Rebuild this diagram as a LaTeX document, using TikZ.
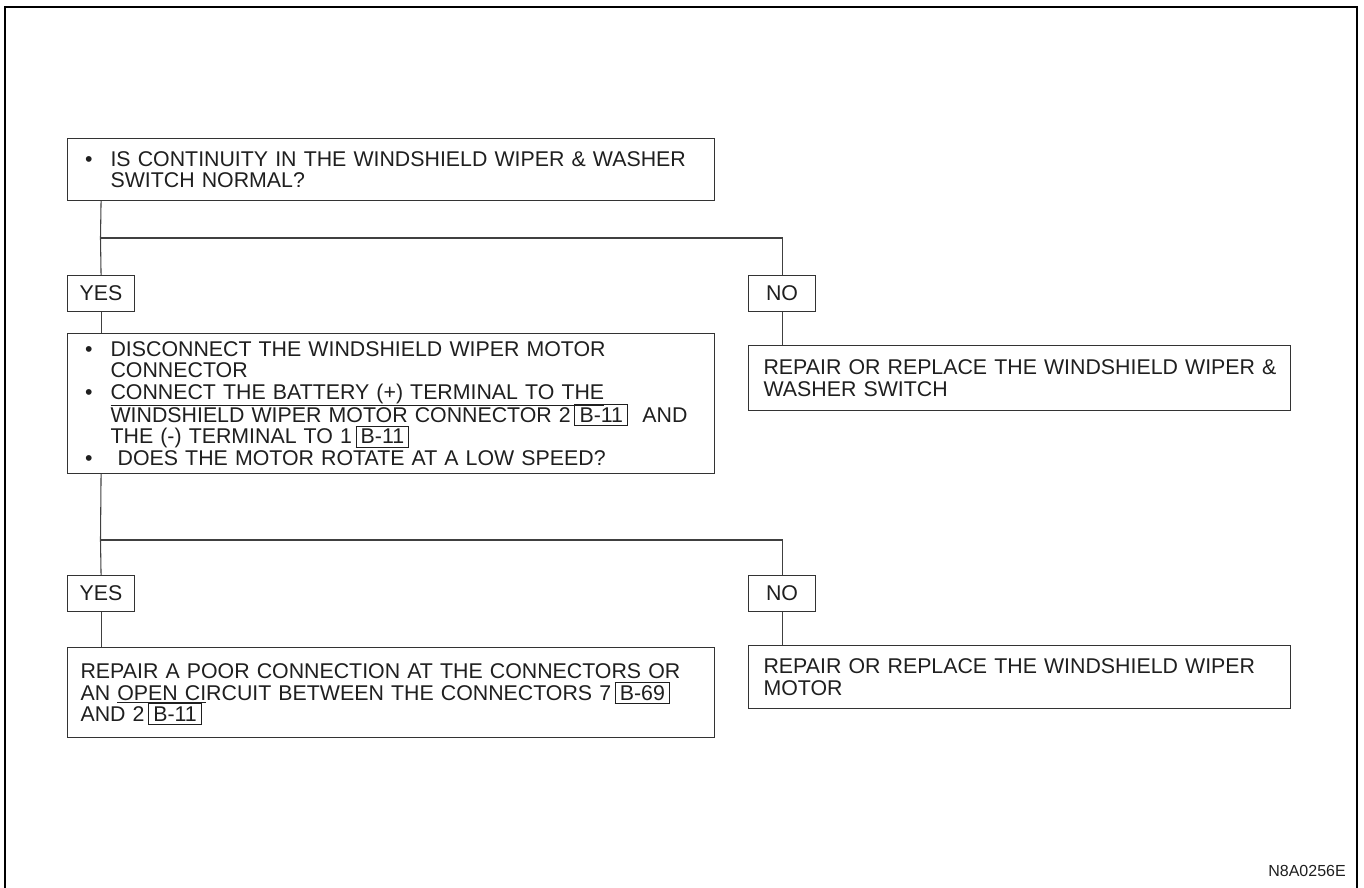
\documentclass[tikz,border=0pt]{standalone}
\usepackage{fontspec}
\setmainfont{Liberation Sans}
% one line of a bulleted item, a continuation line, and a boxed connector code
\newcommand\bl[1]{\mbox{\makebox[22.5pt][l]{\hspace{3.5pt}\textbullet}#1}}
\newcommand\cl[1]{\mbox{\hspace*{22.5pt}#1}}
\newcommand\refbox[1]{\smash{\fboxsep=2pt\fboxrule=0.7pt\fbox{\kern1.2pt#1\kern1.2pt}}}
\begin{document}
\begin{tikzpicture}[x=0.75pt,y=-0.75pt,
  every node/.style={text=black!88},
  flowbox/.style={draw=black!80, line width=0.85pt, rectangle, anchor=north west,
    inner xsep=9.75pt, inner ysep=0pt, align=left,
    font=\fontsize{16pt}{16pt}\selectfont},
  leftbox/.style={flowbox, text width=465.75pt, minimum width=485.25pt},
  rightbox/.style={flowbox, inner xsep=11.25pt, text width=384pt, minimum width=406.5pt},
  answer/.style={draw=black!80, line width=0.85pt, rectangle, anchor=north west,
    inner sep=0pt, minimum width=50.25pt, minimum height=27pt,
    font=\fontsize{16pt}{16pt}\selectfont},
  link/.style={draw=black!75, line width=0.8pt}]
\useasboundingbox (0,0) rectangle (1364,888);

% sheet frame, open at the bottom
\draw[line width=2pt] (5,890) -- (5,7) -- (1357,7) -- (1357,890);

% first check
\node[leftbox, minimum height=46.5pt] (q1) at (67,138)
  {\bl{IS CONTINUITY IN THE WINDSHIELD WIPER \& WASHER}\\
   \cl{SWITCH NORMAL?}};

\node[answer] (yes1) at (67,275) {YES};
\node[answer] (no1) at (748,275) {NO};

\node[leftbox, minimum height=105pt] (q2) at (67,333)
  {\bl{DISCONNECT THE WINDSHIELD WIPER MOTOR}\\
   \cl{CONNECTOR}\\
   \bl{\underline{CONNECT THE BATTERY (+) TERMINAL TO THE}}\\
   \cl{WINDSHIELD WIPER MOTOR CONNECTOR 2\,\refbox{B-11}\ \ AND}\\
   \cl{THE (-) TERMINAL TO 1\,\refbox{B-11}}\\
   \bl{\ DOES THE MOTOR ROTATE AT A LOW SPEED?}};

\node[rightbox, minimum height=48.75pt] (fix1) at (748,345)
  {\mbox{REPAIR OR REPLACE THE WINDSHIELD WIPER \&}\\
   \mbox{WASHER SWITCH}};

% second check
\node[answer] (yes2) at (67,575) {YES};
\node[answer] (no2) at (748,575) {NO};

\node[leftbox, minimum height=67.5pt] (fix2) at (67,647)
  {\mbox{REPAIR A POOR CONNECTION AT THE CONNECTORS OR}\\
   \mbox{AN \underline{OPEN CI}RCUIT BETWEEN THE CONNECTORS 7\,\refbox{B-69}}\\
   \mbox{AND 2\,\refbox{B-11}}};

\node[rightbox, minimum height=47.25pt] (fix3) at (748,645)
  {\mbox{REPAIR OR REPLACE THE WINDSHIELD WIPER}\\
   \mbox{MOTOR}};

% branch points
\coordinate (j1) at (100.5,238);
\coordinate (j2) at (100.5,540);

\draw[link] (q1.south -| yes1.north) -- (j1) -- (yes1.north);
\draw[link] (j1) -| (no1.north);
\draw[link] (yes1.south) -- (yes1.south |- q2.north);
\draw[link] (no1.south) -- (no1.south |- fix1.north);

\draw[link] (q2.south -| yes2.north) -- (j2) -- (yes2.north);
\draw[link] (j2) -| (no2.north);
\draw[link] (yes2.south) -- (yes2.south |- fix2.north);
\draw[link] (no2.south) -- (no2.south |- fix3.north);

\node[anchor=base east, inner sep=0pt, font=\fontsize{12pt}{14pt}\selectfont] (code) at (1346,876) {N8A0256E};
\end{tikzpicture}
\end{document}
